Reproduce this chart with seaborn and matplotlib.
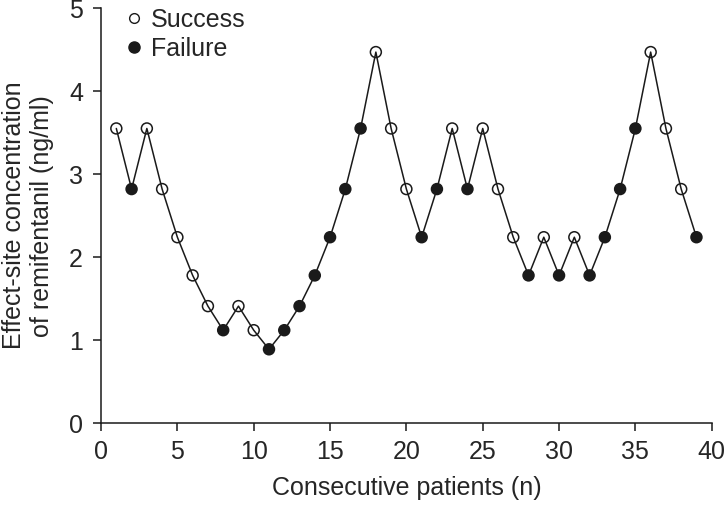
import matplotlib
matplotlib.use("Agg")
import matplotlib.pyplot as plt
import seaborn as sns
import pandas as pd
from matplotlib.lines import Line2D

patients = list(range(1, 40))
concentration = [3.55, 2.82, 3.55, 2.82, 2.24, 1.78, 1.41, 1.12, 1.41, 1.12,
                 0.89, 1.12, 1.41, 1.78, 2.24, 2.82, 3.55, 4.47, 3.55, 2.82,
                 2.24, 2.82, 3.55, 2.82, 3.55, 2.82, 2.24, 1.78, 2.24, 1.78,
                 2.24, 1.78, 2.24, 2.82, 3.55, 4.47, 3.55, 2.82, 2.24]
outcome = ["Success", "Failure", "Success", "Success", "Success", "Success", "Success", "Failure", "Success", "Success",
           "Failure", "Failure", "Failure", "Failure", "Failure", "Failure", "Failure", "Success", "Success", "Success",
           "Failure", "Failure", "Success", "Failure", "Success", "Success", "Success", "Failure", "Success", "Failure",
           "Success", "Failure", "Failure", "Failure", "Failure", "Success", "Success", "Success", "Failure"]

df = pd.DataFrame({"patient": patients, "conc": concentration, "outcome": outcome})

sns.set_style("ticks")
plt.rcParams['font.family'] = ['Liberation Sans', 'DejaVu Sans']

FS = 18
INK = "#1a1a1a"
fig = plt.figure(figsize=(7.27, 5.05), dpi=100)
ax = fig.add_axes([0.139, 0.162, 0.840, 0.822])

sns.lineplot(data=df, x="patient", y="conc", color=INK, linewidth=1.1, ax=ax, zorder=1)
sns.scatterplot(data=df, x="patient", y="conc", hue="outcome",
                palette={"Success": (1, 1, 1, 0), "Failure": INK},
                edgecolor=INK, linewidth=1.1, s=62, ax=ax, zorder=3, legend=False)

handles = [Line2D([], [], marker="o", linestyle="none", markersize=7, markerfacecolor="none",
                  markeredgecolor=INK, markeredgewidth=1.0),
           Line2D([], [], marker="o", linestyle="none", markersize=8, markerfacecolor=INK,
                  markeredgecolor=INK)]
ax.legend(handles, ["Success", "Failure"], loc="upper left", bbox_to_anchor=(0.0, 1.043),
          frameon=False, fontsize=FS, handletextpad=0.1, labelspacing=0.2, borderaxespad=0.3,
          handlelength=1.2)

ax.set_xlim(0, 40)
ax.set_ylim(0, 5)
ax.set_xticks(range(0, 41, 5))
ax.set_yticks(range(0, 6))
ax.tick_params(axis="both", labelsize=FS, direction="out", length=6, width=1.1, color=INK)
ax.tick_params(axis="x", pad=6)
ax.tick_params(axis="y", pad=7)
ax.set_xlabel("Consecutive patients (n)", fontsize=FS, labelpad=9)
ax.set_ylabel("Effect-site concentration\nof remifentanil (ng/ml)", fontsize=FS, labelpad=11)
for s in ["left", "bottom"]:
    ax.spines[s].set_linewidth(1.1)
    ax.spines[s].set_color(INK)
sns.despine(ax=ax)

fig.savefig("out.png", dpi=100)
